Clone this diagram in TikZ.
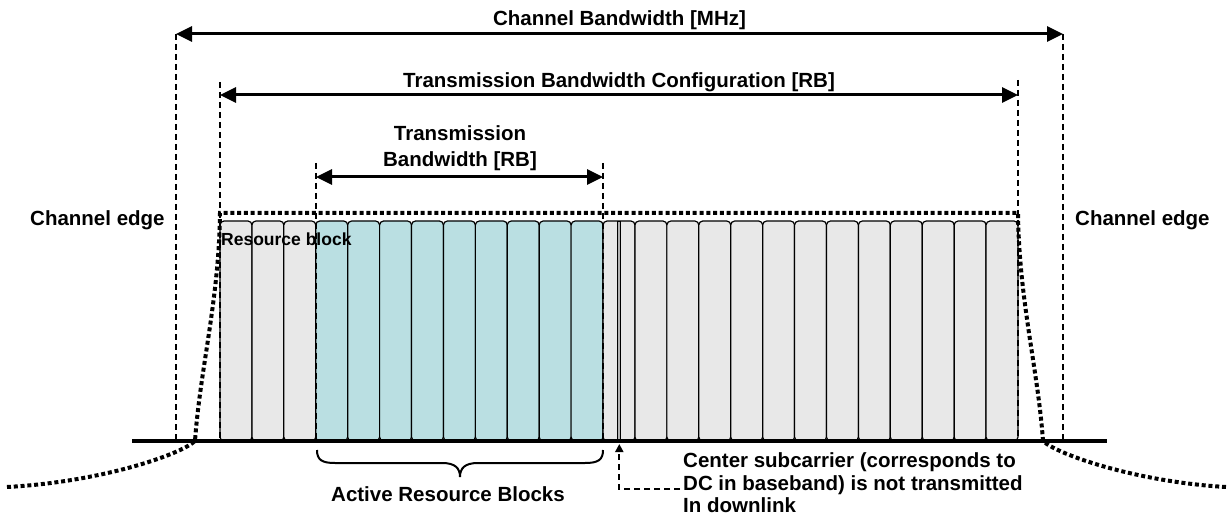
\documentclass[tikz,border=0pt]{standalone}
\usepackage{fontspec}
\setmainfont{Liberation Sans}
\usetikzlibrary{arrows.meta}
\definecolor{rbgray}{RGB}{232,232,232}
\definecolor{rbteal}{RGB}{186,223,226}
\begin{document}
\begin{tikzpicture}[x=1pt,y=-1pt,
  lbl/.style={font=\bfseries\fontsize{20.5}{24}\selectfont, inner sep=0pt},
  smalllbl/.style={font=\bfseries\fontsize{17.5}{21}\selectfont, inner sep=0pt},
  dimarrow/.style={line width=3pt, {Triangle[length=16pt,width=15pt]}-{Triangle[length=16pt,width=15pt]}},
  edgeline/.style={line width=2.2pt, dash pattern=on 6pt off 4pt},
  envelope/.style={line width=4pt, dash pattern=on 4pt off 2.8pt},
  rb/.style={draw=black, line width=1.2pt, rounded corners=4pt},
]
\useasboundingbox (0,0) rectangle (1228,521);

% resource blocks
\foreach \i in {0,...,24}{
  \pgfmathsetmacro{\xa}{220+\i*31.92}
  \pgfmathsetmacro{\xb}{\xa+31.92}
  \ifnum\i<3 \def\fc{rbgray}\else\ifnum\i<12 \def\fc{rbteal}\else\def\fc{rbgray}\fi\fi
  \draw[rb, fill=\fc] (\xa,221) rectangle (\xb,441);
}
% center subcarrier
\draw[fill=gray!60, line width=0.8pt] (617.8,221) rectangle (620.8,441);

% coordinates
\coordinate (cbL) at (176,34);
\coordinate (cbR) at (1063,34);
\coordinate (cbLb) at (176,441);
\coordinate (cbRb) at (1063,441);
\coordinate (tcL) at (220,95);
\coordinate (tcR) at (1018,95);
\coordinate (tcLt) at (220,82);
\coordinate (tcRt) at (1018,80);
\coordinate (tcLb) at (220,441);
\coordinate (tcRb) at (1018,441);
\coordinate (tbL) at (316,177);
\coordinate (tbR) at (603,177);
\coordinate (tbLt) at (316,163);
\coordinate (tbRt) at (603,163);
\coordinate (tbLb) at (316,441);
\coordinate (tbRb) at (603,441);
\coordinate (axL) at (132,441);
\coordinate (axR) at (1107,441);
\coordinate (dc) at (619.3,444);
\coordinate (dcText) at (680,489);

% dashed edges
\draw[edgeline] (cbL) -- (cbLb);
\draw[edgeline] (cbR) -- (cbRb);
\draw[edgeline] (tcLt) -- (tcLb);
\draw[edgeline] (tcRt) -- (tcRb);
\draw[edgeline] (tbLt) -- (tbLb);
\draw[edgeline] (tbRt) -- (tbRb);

% envelope
\draw[envelope] (7,487) .. controls (100,482) and (180,455) .. (195,441)
  .. controls (200,370) and (219,300) .. (220,213) -- (1018,213)
  .. controls (1019,300) and (1038,370) .. (1043,441)
  .. controls (1058,455) and (1138,482) .. (1226,487);

% baseline
\draw[line width=3.5pt] (axL) -- (axR);

% dimension arrows
\draw[dimarrow] (cbL) -- (cbR);
\draw[dimarrow] (tcL) -- (tcR);
\draw[dimarrow] (tbL) -- (tbR);

% brace
\draw[line width=2pt] (317,450) .. controls (317,460) and (322,463) .. (335,463) -- (442,463)
  .. controls (455,463) and (460,468) .. (460,477)
  .. controls (460,468) and (465,463) .. (478,463) -- (585,463)
  .. controls (598,463) and (603,460) .. (603,450);

% DC arrow
\draw[edgeline, -{Triangle[length=8pt,width=8pt]}] (dcText) -| (dc);

% labels
\node[lbl, anchor=base] (tCB) at (619.5,26) {Channel Bandwidth [MHz]};
\node[lbl, anchor=base] (tTC) at (619,88) {Transmission Bandwidth Configuration [RB]};
\node[lbl, anchor=base] (tTB1) at (460,141) {Transmission};
\node[lbl, anchor=base] (tTB2) at (460,167) {Bandwidth [RB]};
\node[lbl, anchor=base west] (tCEL) at (30,226) {Channel edge};
\node[lbl, anchor=base west] (tCER) at (1075,226) {Channel edge};
\node[smalllbl, anchor=base west] (tRB) at (221,246) {Resource block};
\node[lbl, anchor=base] (tARB) at (448,501) {Active Resource Blocks};
\node[lbl, anchor=base west] (tDC1) at (683,467) {Center subcarrier (corresponds to};
\node[lbl, anchor=base west] (tDC2) at (683,490) {DC in baseband) is not transmitted};
\node[lbl, anchor=base west] (tDC3) at (683,512) {In downlink};
\end{tikzpicture}
\end{document}
